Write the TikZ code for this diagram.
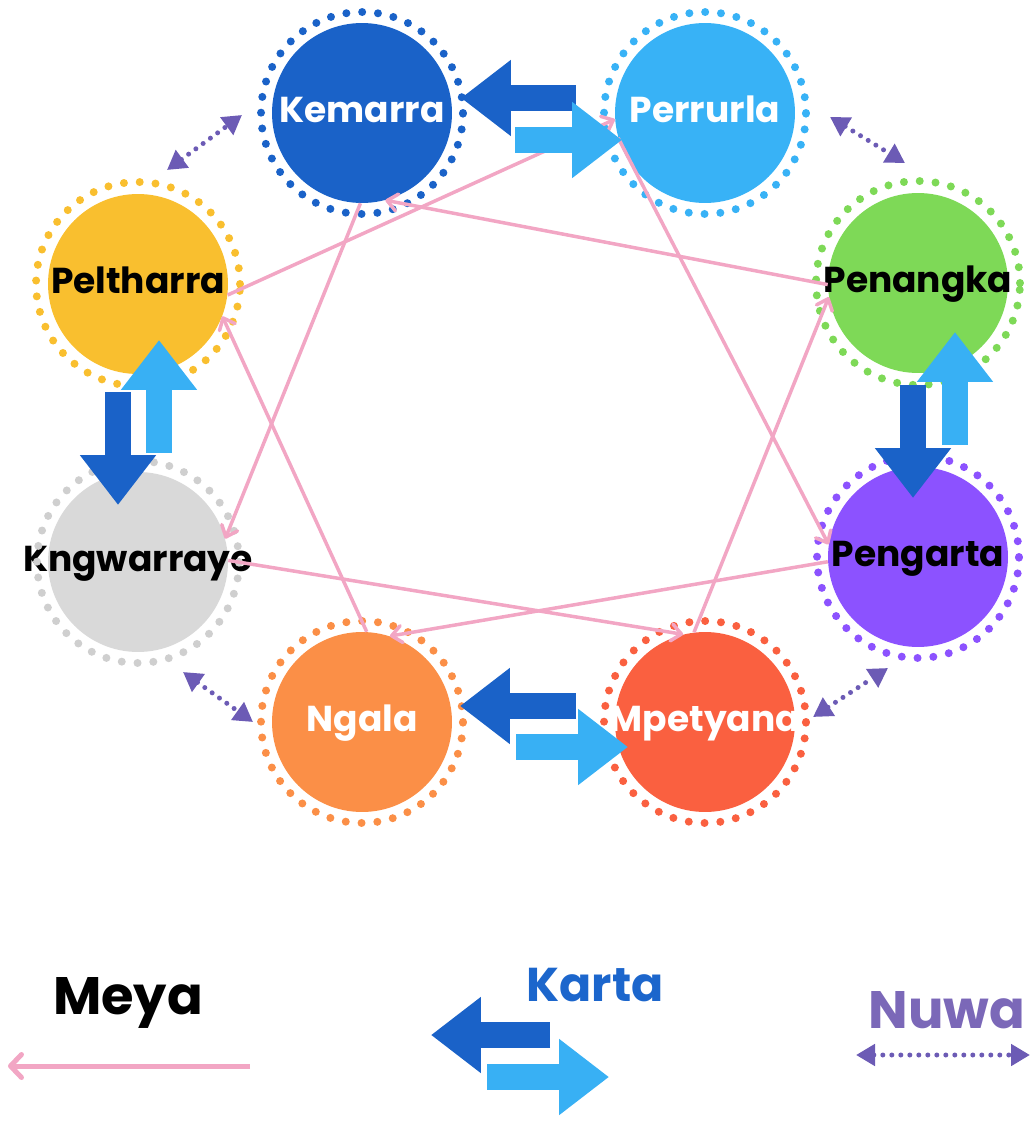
\documentclass[tikz,border=0pt]{standalone}
\usepackage{fontspec}
\setmainfont{Poppins}
\usetikzlibrary{arrows.meta}
\definecolor{kemarra}{HTML}{1A62C8}
\definecolor{perrurla}{HTML}{38B2F6}
\definecolor{penangka}{HTML}{7ED957}
\definecolor{pengarta}{HTML}{8C52FF}
\definecolor{mpetyana}{HTML}{FA6040}
\definecolor{ngala}{HTML}{FB8F47}
\definecolor{kngwarraye}{HTML}{D9D9D9}
\definecolor{kngring}{HTML}{CFCFCF}
\definecolor{peltharra}{HTML}{F9BF2F}
\definecolor{meyapink}{HTML}{F2A6C4}
\definecolor{nuwapurple}{HTML}{6C5BB5}
\definecolor{nuwatext}{HTML}{7B68B8}
\definecolor{kartadark}{HTML}{1A62C8}
\definecolor{kartalight}{HTML}{38B0F4}
\definecolor{kartatext}{HTML}{1C66CC}

\tikzset{
	gruppe/.style={circle, minimum size=3.6cm, inner sep=-0.8cm, text height=1.1em, text depth=0em, font=\bfseries\fontsize{20.5}{20.5}\selectfont},
	ring/.style={line width=0.16cm, dash pattern=on 0pt off 0.317cm, line cap=round},
	meya/.style={draw=meyapink, line width=0.07cm, -{Straight Barb[length=0.2cm,width=0.34cm,round]}},
	meya legend/.style={draw=meyapink, line width=0.1cm, -{Straight Barb[length=0.22cm,width=0.46cm,round]}},
	nuwa/.style={draw=nuwapurple, line width=0.1cm, dash pattern=on 0pt off 0.18cm, line cap=round, {Triangle[length=0.38cm,width=0.42cm]}-{Triangle[length=0.38cm,width=0.42cm]}},
	karta dark/.style={draw=kartadark, line width=0.52cm, -{Triangle[length=1.0cm,width=1.46cm]}},
	karta light/.style={draw=kartalight, line width=0.52cm, -{Triangle[length=1.0cm,width=1.46cm]}},
	legend/.style={font=\bfseries\fontsize{30}{30}\selectfont}
}

\begin{document}
\begin{tikzpicture}[x=0.02cm, y=-0.02cm]
		\useasboundingbox (0,0) rectangle (1032,1121);

		% skin groups
		\node[gruppe, fill=kemarra, text=white] (K) at (362,113) {Kemarra};
		\node[gruppe, fill=perrurla, text=white] (Pe) at (705,113) {Perrurla};
		\node[gruppe, fill=penangka] (Pn) at (918,283) {Penangka};
		\node[gruppe, fill=pengarta] (Pg) at (918,557) {Pengarta};
		\node[gruppe, fill=mpetyana, text=white] (M) at (705,722) {Mpetyana};
		\node[gruppe, fill=ngala, text=white] (N) at (362,722) {Ngala};
		\node[gruppe, fill=kngwarraye] (Kn) at (138,562) {Kngwarraye};
		\node[gruppe, fill=peltharra] (Pl) at (138,284) {Peltharra};
		\draw[ring, kemarra] (K) circle (2.02cm);
		\draw[ring, perrurla] (Pe) circle (2.02cm);
		\draw[ring, penangka] (Pn) circle (2.04cm);
		\draw[ring, pengarta] (Pg) circle (2.02cm);
		\draw[ring, mpetyana] (M) circle (2.02cm);
		\draw[ring, ngala] (N) circle (2.02cm);
		\draw[ring, kngring] (Kn) circle (2.02cm);
		\draw[ring, peltharra] (Pl) circle (2.04cm);

		% meya
		\draw[meya] (Pl.-7) -- (Pe.184);
		\draw[meya] (Pn.181) -- (K.-75);
		\draw[meya] (K.-91) -- (Kn.15);
		\draw[meya] (Pe.196) -- (Pg.172);
		\draw[meya] (Kn.1) -- (M.104);
		\draw[meya] (Pg.183) -- (N.72);
		\draw[meya] (M.97) -- (Pn.189);
		\draw[meya] (N.87) -- (Pl.-21);

		% nuwa
		\draw[nuwa] ([shift={(29,-114)}]Pl.center) -- ([shift={(-120,2)}]K.center);
		\draw[nuwa] ([shift={(125,4)}]Pe.center) -- ([shift={(-13,-120)}]Pn.center);
		\draw[nuwa] ([shift={(45,110)}]Kn.center) -- ([shift={(-109,0)}]N.center);
		\draw[nuwa] ([shift={(108,-5)}]M.center) -- ([shift={(-30,111)}]Pg.center);

		% karta
		\draw[karta dark] ([shift={(-129,-15)}]Pe.center) -- ([shift={(99,-15)}]K.center);
		\draw[karta light] ([shift={(153,27)}]K.center) -- ([shift={(-83,27)}]Pe.center);
		\draw[karta dark] ([shift={(-129,-16)}]M.center) -- ([shift={(98,-16)}]N.center);
		\draw[karta light] ([shift={(154,25)}]N.center) -- ([shift={(-77,25)}]M.center);
		\draw[karta dark] ([shift={(-20,108)}]Pl.center) -- ([shift={(-20,-57)}]Kn.center);
		\draw[karta light] ([shift={(21,-109)}]Kn.center) -- ([shift={(21,56)}]Pl.center);
		\draw[karta dark] ([shift={(-5,102)}]Pn.center) -- ([shift={(-5,-59)}]Pg.center);
		\draw[karta light] ([shift={(37,-112)}]Pg.center) -- ([shift={(37,49)}]Pn.center);

		% legend
		\node[legend] (meyalabel) at (128,1003) {Meya};
		\draw[meya legend] ([shift={(122,63)}]meyalabel.center) -- ([shift={(-120,63)}]meyalabel.center);
		\node[legend, text=kartatext, font=\bfseries\fontsize{27}{27}\selectfont] (kartalabel) at (595,985) {Karta};
		\draw[karta dark] ([shift={(-45,50)}]kartalabel.center) -- ([shift={(-164,50)}]kartalabel.center);
		\draw[karta light] ([shift={(-108,92)}]kartalabel.center) -- ([shift={(14,92)}]kartalabel.center);
		\node[legend, text=nuwatext] (nuwalabel) at (947,1010) {Nuwa};
		\draw[nuwa] ([shift={(-91,45)}]nuwalabel.center) -- ([shift={(83,45)}]nuwalabel.center);
	\end{tikzpicture}
\end{document}
